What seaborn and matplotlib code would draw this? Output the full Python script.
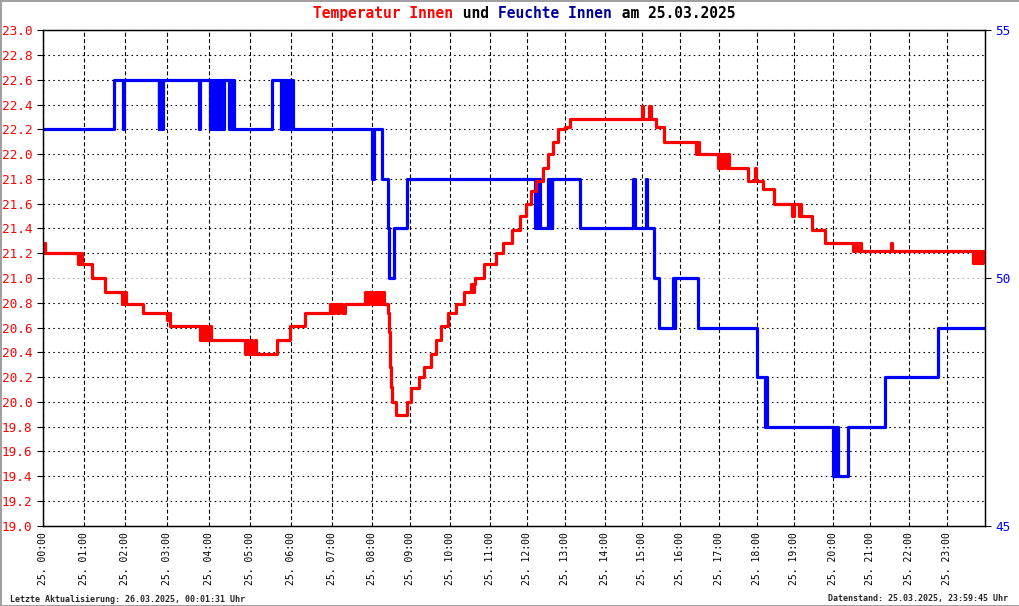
import numpy as np
import pandas as pd
import seaborn as sns
import matplotlib
matplotlib.use('Agg')
from matplotlib import pyplot as plt
from matplotlib.ticker import NullLocator

# hour of day -> sample index where that hour starts (x axis runs over samples, not time)
hours = list(range(25))
hour_start_sample = [0, 40.7, 82, 123.7, 165.4, 206.4, 247.4, 288.4, 329, 367, 407,
                     446.4, 484.2, 522, 561.4, 598.4, 637, 675.4, 713.4, 751, 789.4,
                     827, 866, 904, 941.7]
hour_labels = [f'25. {h:02d}:00' for h in range(24)]

# temperature (degC), step changes: (hour, value)
temp_steps = [
    (0.00, 21.20), (0.02, 21.28), (0.05, 21.20), (0.85, 21.11), (0.88, 21.20), (0.90, 21.11),
    (0.93, 21.20), (0.95, 21.11), (1.19, 21.00), (1.50, 20.89), (1.93, 20.79), (1.95, 20.89),
    (1.97, 20.79), (2.00, 20.89), (2.02, 20.79), (2.42, 20.72), (3.00, 20.66), (3.03, 20.72),
    (3.06, 20.61), (3.78, 20.50), (3.82, 20.61), (3.86, 20.50), (3.92, 20.61), (3.97, 20.50),
    (4.02, 20.61), (4.06, 20.50), (4.88, 20.39), (4.92, 20.50), (4.96, 20.39), (5.02, 20.50),
    (5.06, 20.39), (5.12, 20.50), (5.15, 20.39), (5.67, 20.50), (5.98, 20.61), (6.35, 20.72),
    (6.95, 20.79), (7.00, 20.72), (7.06, 20.79), (7.12, 20.72), (7.18, 20.79), (7.25, 20.72),
    (7.32, 20.79), (7.82, 20.89), (7.88, 20.79), (7.92, 20.89), (8.00, 20.79), (8.06, 20.89),
    (8.12, 20.79), (8.18, 20.89), (8.24, 20.79), (8.28, 20.89), (8.32, 20.79), (8.42, 20.72),
    (8.44, 20.56), (8.46, 20.28), (8.50, 20.12), (8.53, 20.00), (8.62, 19.89), (8.90, 20.00),
    (9.02, 20.11), (9.22, 20.20), (9.35, 20.28), (9.51, 20.39), (9.64, 20.50), (9.78, 20.61),
    (9.95, 20.72), (10.14, 20.79), (10.35, 20.89), (10.52, 20.95), (10.56, 20.89), (10.60, 20.95),
    (10.62, 21.00), (10.85, 21.11), (11.16, 21.20), (11.35, 21.28), (11.58, 21.39), (11.80, 21.50),
    (11.95, 21.60), (12.10, 21.70), (12.22, 21.78), (12.40, 21.89), (12.55, 22.00), (12.68, 22.10),
    (12.80, 22.20), (12.99, 22.22), (13.13, 22.28), (15.00, 22.39), (15.03, 22.28), (15.20, 22.39),
    (15.23, 22.28), (15.38, 22.22), (15.58, 22.10), (16.40, 22.00), (16.44, 22.10), (16.48, 22.00),
    (16.97, 21.89), (17.02, 22.00), (17.06, 21.89), (17.12, 22.00), (17.18, 21.89), (17.24, 22.00),
    (17.28, 21.89), (17.77, 21.78), (17.95, 21.89), (17.98, 21.78), (18.16, 21.72), (18.47, 21.60),
    (18.93, 21.50), (18.98, 21.60), (19.13, 21.50), (19.15, 21.60), (19.17, 21.50), (19.46, 21.39),
    (19.80, 21.28), (20.55, 21.22), (20.60, 21.28), (20.66, 21.22), (20.70, 21.28), (20.76, 21.22),
    (21.54, 21.28), (21.56, 21.22), (23.69, 21.12), (23.73, 21.22), (23.78, 21.12), (23.85, 21.22),
    (23.90, 21.12), (23.96, 21.22), (24.00, 21.15),
]

# humidity (%), step changes: (hour, value)
hum_steps = [
    (0.00, 53), (1.72, 54), (1.95, 53), (1.97, 54), (2.80, 53), (2.82, 54), (2.86, 53), (2.90, 54),
    (3.76, 53), (3.79, 54), (4.03, 53), (4.07, 54), (4.10, 53), (4.14, 54), (4.18, 53), (4.22, 54),
    (4.26, 53), (4.30, 54), (4.34, 53), (4.38, 54), (4.50, 53), (4.53, 54), (4.56, 53), (4.59, 54),
    (4.62, 53), (5.54, 54), (5.76, 53), (5.80, 54), (5.84, 53), (5.88, 54), (5.92, 53), (5.96, 54),
    (6.00, 53), (6.04, 54), (6.06, 53), (8.00, 52), (8.04, 53), (8.26, 52), (8.42, 51), (8.44, 50),
    (8.57, 51), (8.90, 52), (12.20, 51), (12.23, 52), (12.26, 51), (12.29, 52), (12.32, 51),
    (12.55, 52), (12.58, 51), (12.61, 52), (12.64, 51), (12.66, 52), (13.38, 51), (14.77, 52),
    (14.83, 51), (15.10, 52), (15.13, 51), (15.33, 50), (15.45, 49), (15.82, 50), (15.85, 49),
    (15.87, 50), (16.47, 49), (18.00, 48), (18.22, 47), (18.25, 48), (18.27, 47), (20.02, 46),
    (20.06, 47), (20.09, 46), (20.12, 47), (20.15, 46), (20.41, 47), (21.38, 48), (22.76, 49),
    (24.00, 49),
]

temp_ticks = np.round(np.arange(19.0, 23.001, 0.2), 1)
hum_ticks = [45, 50, 55]

temp_df = pd.DataFrame(temp_steps, columns=['hour', 'temp'])
hum_df = pd.DataFrame(hum_steps, columns=['hour', 'hum'])

sns.set_theme(style='white')
plt.rcParams['font.family'] = ['DejaVu Sans Mono']

W, H = 1020, 606
fig, ax_h = plt.subplots(figsize=(W / 100, H / 100), dpi=100)
fig.subplots_adjust(left=43.3 / W, right=985 / W, top=1 - 30.3 / H, bottom=1 - 525.7 / H)
ax_t = ax_h.twinx()


def to_sample(h):
    return np.interp(h, hours, hour_start_sample)


def to_hour(s):
    return np.interp(s, hour_start_sample, hours)


ax_h.set_xscale('function', functions=(to_sample, to_hour))

sns.lineplot(data=hum_df, x='hour', y='hum', ax=ax_h, color='#0000ff', lw=2.3,
             drawstyle='steps-post', estimator=None, sort=False)
sns.lineplot(data=temp_df, x='hour', y='temp', ax=ax_t, color='#ff0000', lw=2.3,
             drawstyle='steps-post', estimator=None, sort=False)

ax_h.set_xlim(0, 24)
ax_h.set_xticks(range(24))
ax_h.set_xticklabels(hour_labels, rotation=90, fontsize=7)
ax_h.xaxis.set_minor_locator(NullLocator())
ax_h.tick_params(axis='x', length=0, pad=4.5, labelcolor='black')

ax_h.set_ylim(45, 55)
ax_h.set_yticks(hum_ticks)
ax_h.set_yticks(np.arange(45, 55.01, 0.5), minor=True)
ax_h.yaxis.tick_right()
ax_h.tick_params(axis='y', which='major', labelcolor='#0000ff', color='black',
                 length=4, width=0.8, pad=3.5, labelsize=9.2, direction='out')
ax_h.tick_params(axis='y', which='minor', length=0)

ax_t.set_ylim(19, 23)
ax_t.set_yticks(temp_ticks)
ax_t.set_yticklabels([f'{v:.1f}' for v in temp_ticks])
ax_t.yaxis.tick_left()
ax_t.tick_params(axis='y', labelcolor='#ff0000', color='black', length=4, width=0.8,
                 pad=4, labelsize=9.2, direction='out')

ax_h.grid(axis='y', which='minor', color='black', ls=(0, (1.4, 3.0)), lw=0.8)
ax_h.grid(axis='y', which='major', color='#b4b4b4', ls=(0, (1.4, 3.0)), lw=0.8)
ax_h.grid(axis='x', which='major', color='black', ls=(0, (3.6, 2.2)), lw=0.8)

for a in (ax_h, ax_t):
    a.set_xlabel('')
    a.set_ylabel('')
    for s in a.spines.values():
        s.set_color('black')
        s.set_linewidth(0.9)

# title in coloured pieces (monospace, so chunks line up by character count)
title_parts = [('Temperatur Innen', '#ff0000'), (' und ', 'black'),
               ('Feuchte Innen', '#000099'), (' am 25.03.2025', 'black')]
char_w = 8.83
x0 = 313
for txt, col in title_parts:
    fig.text(x0 / W, 1 - 13.5 / H, txt, color=col, fontsize=10.5, fontweight='bold',
             va='center', ha='left')
    x0 += len(txt) * char_w

fig.text(10 / W, 1 - 599 / H, 'Letzte Aktualisierung: 26.03.2025, 00:01:31 Uhr',
         fontsize=6, fontweight='bold', va='center', ha='left')
fig.text(1008 / W, 1 - 599 / H, 'Datenstand: 25.03.2025, 23:59:45 Uhr',
         fontsize=6, fontweight='bold', va='center', ha='right')

fig.patch.set_facecolor('white')
fig.patch.set_edgecolor('#a0a0a0')
fig.patch.set_linewidth(2)
fig.savefig('out.png', dpi=100, facecolor=fig.get_facecolor(), edgecolor=fig.get_edgecolor())
